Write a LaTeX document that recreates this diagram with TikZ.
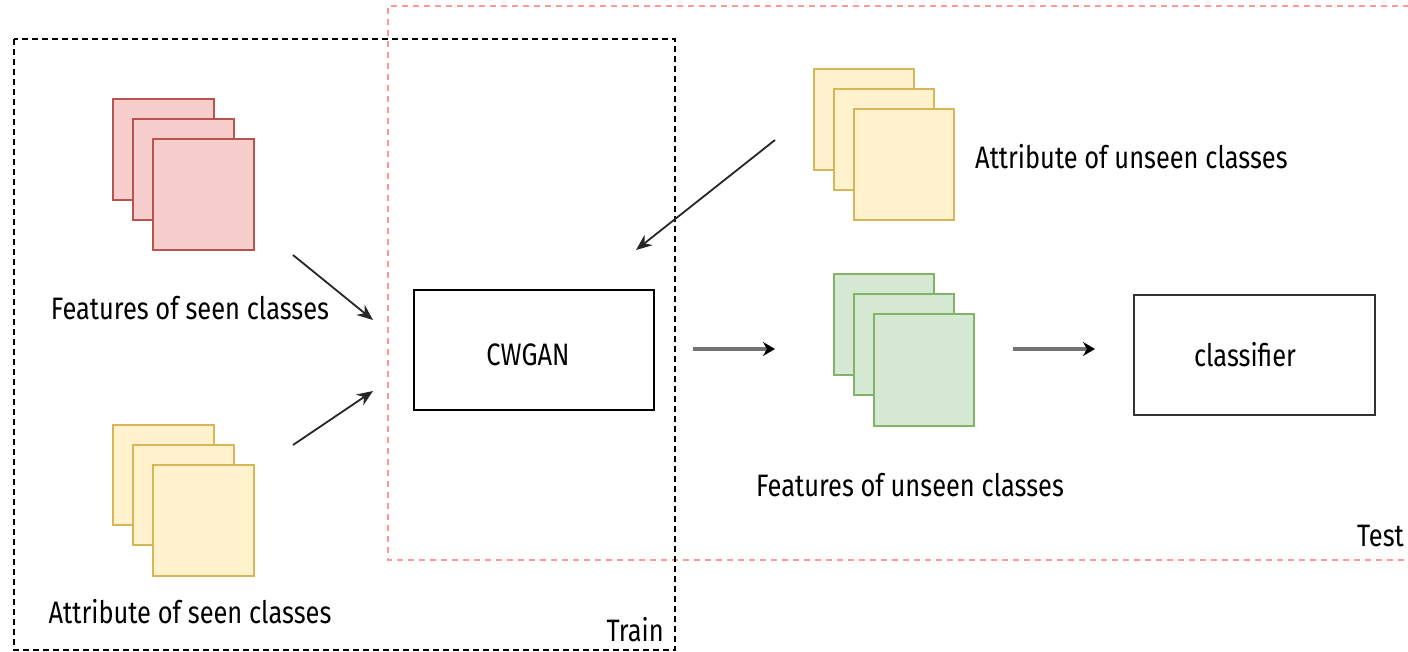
\documentclass[tikz,border=0pt]{standalone}
\usepackage{fontspec}
\setmainfont{Fira Sans}[FakeStretch=0.82]
\usetikzlibrary{arrows.meta}
\definecolor{redfill}{HTML}{F8CECC}
\definecolor{redline}{HTML}{B85450}
\definecolor{yelfill}{HTML}{FFF2CC}
\definecolor{yelline}{HTML}{D6B656}
\definecolor{grnfill}{HTML}{D5E8D4}
\definecolor{grnline}{HTML}{82B366}
\definecolor{testline}{HTML}{FF9999}
\tikzset{
  sheet/.style={line width=1.5pt},
  redsheet/.style={sheet, fill=redfill, draw=redline},
  yelsheet/.style={sheet, fill=yelfill, draw=yelline},
  grnsheet/.style={sheet, fill=grnfill, draw=grnline},
  procbox/.style={draw=black, line width=1.5pt, fill=white},
  lbl/.style={font=\fontsize{31}{36}\selectfont, inner sep=0pt},
  flow/.style={-{Stealth[length=16pt,width=13pt]}, line width=1.8pt, draw=black!85},
  thickflow/.style={-{Stealth[length=12pt,width=14pt,color=black]}, line width=3.2pt, draw=black!55},
  trainframe/.style={draw=black, line width=1.3pt, dash pattern=on 6pt off 4pt},
  testframe/.style={draw=testline, line width=1.5pt, dash pattern=on 6pt off 5pt},
}
\begin{document}
\begin{tikzpicture}[x=1pt,y=-1pt]
\useasboundingbox (0,0) rectangle (1408,651);
\fill[white] (0,0) rectangle (1408,651);

% frames
\draw[testframe] (1420,6) -- (388,6) -- (388,560) -- (1420,560);
\draw[trainframe] (14,39) rectangle (675,650);
\node[lbl, anchor=east] (trainlbl) at (664,630) {Train};
\node[lbl, anchor=east] (testlbl) at (1404,536) {Test};

% features of seen classes
\draw[redsheet] (113,99) rectangle (214,200);
\draw[redsheet] (133,119) rectangle (234,220);
\draw[redsheet] (153,139) rectangle (254,250);
\node[lbl] (fseen) at (190,308) {Features of seen classes};

% attributes of seen classes
\draw[yelsheet] (113,425) rectangle (214,525);
\draw[yelsheet] (133,445) rectangle (234,545);
\draw[yelsheet] (153,465) rectangle (254,576);
\node[lbl] (aseen) at (190,612) {Attribute of seen classes};

% attributes of unseen classes
\draw[yelsheet] (814,69) rectangle (914,170);
\draw[yelsheet] (834,89) rectangle (934,190);
\draw[yelsheet] (854,109) rectangle (954,220);
\node[lbl, anchor=west] (aunseen) at (975,157) {Attribute of unseen classes};

% generated features of unseen classes
\draw[grnsheet] (834,274) rectangle (934,375);
\draw[grnsheet] (854,294) rectangle (954,395);
\draw[grnsheet] (874,314) rectangle (974,426);
\node[lbl] (funseen) at (910,485) {Features of unseen classes};

% processing blocks and their captions
\node[procbox, minimum width=240pt, minimum height=120pt] (cwgan) at (534,350) {};
\node[lbl] (cwganlbl) at (528,355) {CWGAN};
\node[procbox, draw=black!80, minimum width=241pt, minimum height=120pt] (clf) at (1254.5,355) {};
\node[lbl] (clflbl) at (1245,355) {classifier};

% connectors
\coordinate (s1) at (293,255);
\coordinate (e1) at (373,320);
\coordinate (s2) at (293,445);
\coordinate (e2) at (373,391);
\coordinate (s3) at (775,140);
\coordinate (e3) at (636,250);
\coordinate (s4) at (693,349);
\coordinate (e4) at (775,349);
\coordinate (s5) at (1013,349);
\coordinate (e5) at (1095,349);
\draw[flow] (s1) -- (e1);
\draw[flow] (s2) -- (e2);
\draw[flow] (s3) -- (e3);
\draw[thickflow] (s4) -- (e4);
\draw[thickflow] (s5) -- (e5);
\end{tikzpicture}
\end{document}
